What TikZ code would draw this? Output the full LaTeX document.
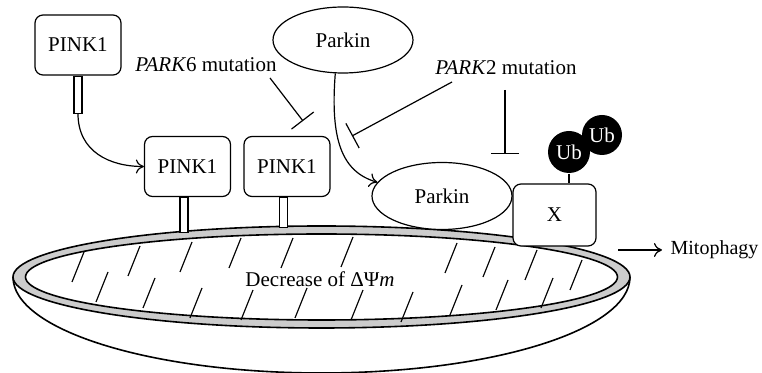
\documentclass[tikz,border=0pt]{standalone}
\usepackage{fontspec}
\setmainfont{Liberation Serif}
\usetikzlibrary{arrows.meta,shapes.geometric}

\tikzset{
  pinkbox/.style={draw, rounded corners=4pt, fill=white, inner sep=0pt,
    minimum width=43pt, minimum height=30pt},
  stalk/.style={draw, fill=white, inner sep=0pt, minimum width=4pt, anchor=north},
  parkin/.style={draw, ellipse, fill=white, inner sep=0pt,
    minimum width=70pt, minimum height=33pt},
  ub/.style={circle, fill=black, text=white, inner sep=0pt, minimum size=20.5pt},
  inhib/.style={-{Bar[width=14pt]}},
  membrane/.style={line width=0.8pt},
}

\begin{document}
\begin{tikzpicture}[x=0.5pt, y=-0.5pt, line width=0.6pt,
    font=\fontsize{10.5}{12}\selectfont, >={To[length=4pt,width=7pt]}]
  \useasboundingbox (0,0) rectangle (762,373);

  % mitochondrion
  \draw[membrane] (13,277) arc[start angle=180, end angle=0, x radius=308.5, y radius=96];
  \fill[gray!40, even odd rule] (321.5,277) ellipse [x radius=308.5, y radius=51]
    (321.5,277) ellipse [x radius=296, y radius=43];
  \draw[membrane] (321.5,277) ellipse [x radius=308.5, y radius=51];
  \draw[membrane] (321.5,277) ellipse [x radius=296, y radius=43];

  % cristae strokes
  \foreach \x/\y in {84/252, 140/246, 192/242, 241/238, 293/238, 353/237,
      457/243, 495/247, 537/250, 582/260,
      108/272, 155/278, 202/288, 253/290, 307/288, 363/290,
      413/292, 462/285, 508/280, 553/278}
    \draw (\x,\y) -- ++(-12,30);
  \node (dpsi) at (320,279) {Decrease of ΔΨ\textit{m}};

  % PINK1
  \node[pinkbox] (pink_0) at (78,45) {PINK1};
  \node[stalk, minimum height=18.5pt] (stalk_0) at (pink_0.south) {};
  \foreach \i/\x/\h in {1/187.5/17.5pt, 2/287/15pt} {
    \node[pinkbox] (pink_\i) at (\x,166.5) {PINK1};
    \node[stalk, minimum height=\h] (stalk_\i) at ([xshift=-1.75pt]pink_\i.south) {};
  }
  \draw[->] (stalk_0.south) .. controls +(0,38) and +(-34,0) .. (pink_1.west);

  % Parkin
  \node[parkin] (parkin_0) at (343,40) {Parkin};
  \node[parkin, minimum height=33.5pt] (parkin_1) at (442,196) {Parkin};
  \draw[->] (parkin_0.257) .. controls (330,140) and (342,172) .. (parkin_1.168);

  % X and ubiquitin
  \node[pinkbox, minimum width=41.5pt, minimum height=31pt] (xbox) at (554.5,215) {X};
  \node[ub, minimum size=20pt] (ub_2) at (602,135) {Ub};
  \node[ub, minimum size=21pt] (ub_1) at (569,152) {Ub};
  \draw (ub_1.south) -- (ub_1.south |- xbox.north);

  % mutations
  \node (park6) at (206,65) {\textit{PARK}6 mutation};
  \node (park2) at (506,68) {\textit{PARK}2 mutation};
  \coordinate (park6_from) at (270,78);
  \coordinate (park6_to) at (303,121);
  \coordinate (park2_from) at (452,82);
  \coordinate (park2_to) at (352,136);
  \coordinate (park2x_from) at (505,90);
  \coordinate (park2x_to) at (505,154);
  \draw[inhib] (park6_from) -- (park6_to);
  \draw[inhib] (park2_from) -- (park2_to);
  \draw[inhib] (park2x_from) -- (park2x_to);

  % mitophagy
  \coordinate (mito_from) at (618,250);
  \node[anchor=west, inner sep=0pt, font=\fontsize{10}{12}\selectfont] (mito) at (670,250) {Mitophagy};
  \draw[->] (mito_from) -- ([xshift=-4pt]mito.west);
\end{tikzpicture}
\end{document}
